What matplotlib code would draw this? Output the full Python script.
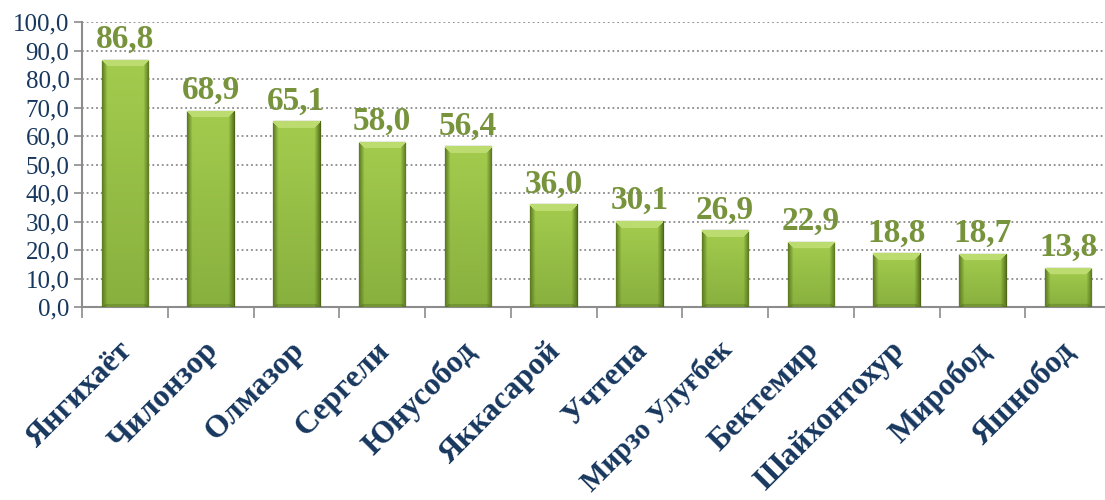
import matplotlib

matplotlib.use("Agg")
import matplotlib.pyplot as plt
import matplotlib.transforms as mtransforms
import numpy as np
from matplotlib.colors import to_rgb
from matplotlib.ticker import FixedLocator, FuncFormatter

districts = ["Янгихаёт", "Чилонзор", "Олмазор", "Сергели", "Юнусобод", "Яккасарой",
             "Учтепа", "Мирзо Улуғбек", "Бектемир", "Шайхонтохур", "Миробод", "Яшнобод"]
values = [86.8, 68.9, 65.1, 58.0, 56.4, 36.0, 30.1, 26.9, 22.9, 18.8, 18.7, 13.8]

NAVY = "#17375e"
OLIVE = "#77933c"
SERIF = ["Liberation Serif", "DejaVu Serif"]

fig = plt.figure(figsize=(11.05, 5.0), dpi=100)
ax = fig.add_axes([82 / 1105, 1 - 307 / 500, 1 - 82 / 1105, (307 - 22) / 500])

x = np.arange(len(values))
width = 0.54
bars = ax.bar(x, values, width=width, color="#94bd46", edgecolor="#4f6619",
              linewidth=0.9, zorder=3)


def bevel_image(w_px, h_px, bev=5):
    """Заливка столбца: светлая фаска сверху, тёмные боковые края."""
    top_c = np.array(to_rgb("#a3cc4e"))
    bot_c = np.array(to_rgb("#88b03e"))
    light = np.array(to_rgb("#bcdc70"))
    dark = np.array(to_rgb("#5f7d22"))
    rows = np.arange(h_px)
    cols = np.arange(w_px)
    f = (rows / max(h_px - 1, 1))[:, None, None]
    img = top_c * (1 - f) + bot_c * f
    img = np.broadcast_to(img, (h_px, w_px, 3)).copy()
    dx = np.minimum(cols, w_px - 1 - cols)[None, :]
    dy_top = rows[:, None]
    dy_bot = (h_px - 1 - rows)[:, None]
    side = (dx < bev) & (dx <= dy_top)
    top = (dy_top < bev + 2) & (dy_top < dx + 2)
    bot = (dy_bot < 3) & (dy_bot < dx) & ~top
    t = np.clip(dx / bev, 0, 1)[..., None]
    img = np.where(side[..., None], dark * (1 - t) + img * t, img)
    img = np.where(top[..., None], np.broadcast_to(light, img.shape), img)
    img = np.where(bot[..., None], img * 0.85, img)
    return img


px_per_unit = 285 / 100
bar_w_px = int(round(width * 85.8))
for b, v in zip(bars, values):
    h_px = max(int(round(v * px_per_unit)), 12)
    img = bevel_image(bar_w_px, h_px)
    x0 = b.get_x()
    im = ax.imshow(img, extent=(x0, x0 + width, 0, v), aspect="auto",
                   origin="upper", zorder=3, interpolation="bilinear")
    im.set_clip_path(b)
    ax.text(b.get_x() + width / 2, v + 4.2, f"{v:.1f}".replace(".", ","),
            ha="center", va="baseline", fontsize=24, fontweight="bold",
            color=OLIVE, family=SERIF, zorder=4)

ax.set_xlim(-0.5, 11.43)
ax.set_ylim(0, 100)

ax.yaxis.set_major_locator(FixedLocator(np.arange(0, 101, 10)))
ax.yaxis.set_major_formatter(FuncFormatter(lambda v, _: f"{v:.1f}".replace(".", ",")))
ax.grid(axis="y", color="#8a8a8a", linestyle=(0, (1, 1.6)), linewidth=1.3, zorder=0)
ax.set_axisbelow(True)

ax.set_xticks(x)
ax.set_xticklabels(districts, rotation=45, ha="right", va="top",
                   rotation_mode="anchor", fontsize=23, fontweight="bold",
                   color=NAVY, family=SERIF)
ax.tick_params(axis="x", length=0, pad=18)
shift = mtransforms.ScaledTranslation(-7 / 100, -4 / 100, fig.dpi_scale_trans)
for lab in ax.get_xticklabels():
    lab.set_transform(lab.get_transform() + shift)
    if len(lab.get_text()) > 11:
        lab.set_fontsize(21)  # длинная подпись, иначе обрезается снизу
ax.xaxis.set_minor_locator(FixedLocator(np.arange(-0.5, 12, 1)))
ax.tick_params(axis="x", which="minor", length=8, width=1.2, color="#8c8c8c")
ax.tick_params(axis="y", length=6, width=1.2, color="#8c8c8c", labelsize=18,
               labelcolor=NAVY, pad=3)
for lab in ax.get_yticklabels():
    lab.set_family(SERIF)

for s in ("top", "right"):
    ax.spines[s].set_visible(False)
for s in ("left", "bottom"):
    ax.spines[s].set_color("#8c8c8c")
    ax.spines[s].set_linewidth(1.5)

fig.savefig("out.png", dpi=100)
